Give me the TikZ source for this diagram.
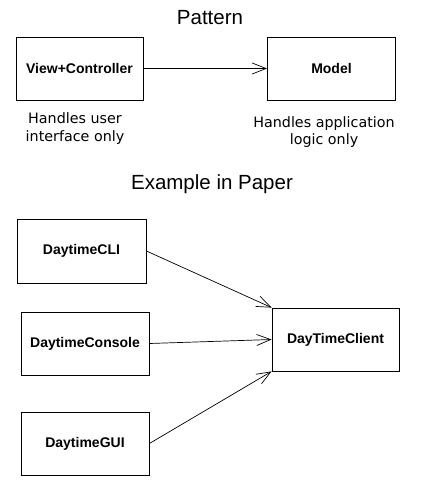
\documentclass[tikz,border=0pt]{standalone}
\usepackage{fontspec}
\setmainfont{Liberation Sans}
\newfontfamily\handfont{DejaVu Sans}
\usetikzlibrary{arrows.meta}
\begin{document}
\begin{tikzpicture}[x=1pt,y=-1pt,
  box/.style={draw, line width=0.8pt, rectangle, minimum width=#1, minimum height=63pt, inner sep=0pt, font=\fontsize{14}{16}\selectfont\bfseries},
  box/.default=128pt,
  conn/.style={line width=0.7pt, -{Straight Barb[length=14pt,width=11pt,line width=0.7pt]}},
  title/.style={font=\fontsize{20.5}{24}\selectfont},
  note/.style={align=center, font=\handfont\fontsize{14.3}{17.5}\selectfont}]
\useasboundingbox (0,0) rectangle (435,495);
\node[title] (t1) at (210,18) {Pattern};
\node[box=127pt] (vc) at (79.5,68.5) {View+Controller};
\node[box] (model) at (331.5,68.5) {Model};
\draw[conn] (vc.east) -- (model.west);
\node[note] (n1) at (75,128.5) {Handles user\\interface only};
\node[note] (n2) at (324,132) {Handles application\\logic only};
\node[title] (t2) at (212,184) {Example in Paper};
\node[box=129pt,minimum height=64pt] (cli) at (81.5,251) {DaytimeCLI};
\node[box] (con) at (85,343.5) {DaytimeConsole};
\node[box] (gui) at (85,443.5) {DaytimeGUI};
\node[box=127pt] (cl) at (335.5,339.5) {DayTimeClient};
\draw[conn] (cli.east) -- (cl.north west);
\draw[conn] (con.east) -- (cl.west);
\draw[conn] (gui.east) -- (cl.south west);
\end{tikzpicture}
\end{document}
